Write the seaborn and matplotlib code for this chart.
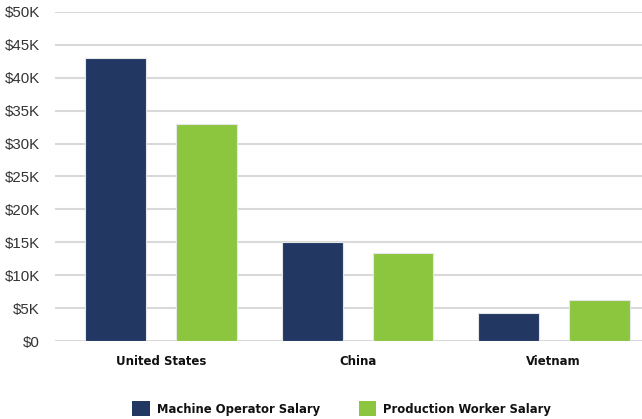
import matplotlib
matplotlib.use("Agg")
import matplotlib.pyplot as plt
import seaborn as sns
import pandas as pd
from matplotlib.ticker import FuncFormatter
from matplotlib.patches import Patch

countries = ["United States", "China", "Vietnam"]
machine_operator = [43000, 15000, 4300]
production_worker = [33000, 13300, 6200]
series_names = ["Machine Operator Salary", "Production Worker Salary"]
colors = ["#223862", "#8cc63f"]

df = pd.DataFrame({
    "Country": countries * 2,
    "Salary": machine_operator + production_worker,
    "Series": [series_names[0]] * 3 + [series_names[1]] * 3,
})

sns.set_theme(style="white")
plt.rcParams["font.family"] = ["Liberation Sans", "DejaVu Sans"]

fig = plt.figure(figsize=(6.42, 4.19), dpi=100)
ax = fig.add_axes([55 / 642, 78 / 419, 1 - 55 / 642, (341 - 12) / 419])

sns.barplot(data=df, x="Country", y="Salary", hue="Series", palette=colors,
            saturation=1, width=0.928, gap=0.33, ax=ax, edgecolor="#e6e6e6",
            linewidth=0.8, legend=False, zorder=3)

ax.set_ylim(0, 50000)
ax.set_xlim(-0.543, 2.451)
ax.set_yticks(range(0, 50001, 5000))
ax.yaxis.set_major_formatter(FuncFormatter(lambda v, p: "$0" if v == 0 else f"${int(v/1000)}K"))
ax.grid(axis="y", color="#d9d9d9", linewidth=1.5, zorder=0)
ax.set_axisbelow(True)
for s in ax.spines.values():
    s.set_visible(False)
ax.set_xlabel("")
ax.set_ylabel("")
ax.tick_params(axis="y", length=0, pad=11, labelsize=10.8, labelcolor="#333333")
ax.tick_params(axis="x", length=0, pad=10)
for lbl in ax.get_xticklabels():
    lbl.set_fontfamily(["DejaVu Sans"])
    lbl.set_fontstretch("condensed")
    lbl.set_fontweight("bold")
    lbl.set_fontsize(9.4)
    lbl.set_color("#111111")

handles = [Patch(facecolor=c, edgecolor="none") for c in colors]
leg = fig.legend(handles, series_names, loc="lower center", bbox_to_anchor=(0.532, -0.02),
                 ncol=2, frameon=False, handlelength=1.35, handleheight=1.35,
                 columnspacing=3.0, handletextpad=0.55,
                 prop={"family": ["DejaVu Sans"], "stretch": "condensed",
                       "weight": "bold", "size": 9.3})
for t in leg.get_texts():
    t.set_color("#111111")

fig.savefig("out.png", dpi=100)
